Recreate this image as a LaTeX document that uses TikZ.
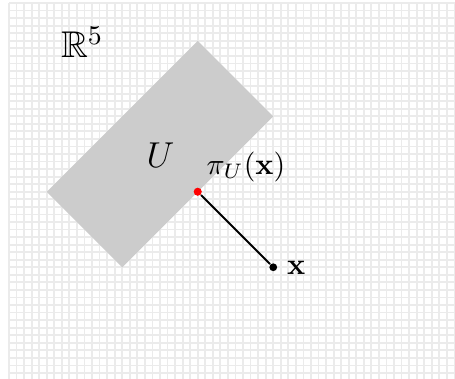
\documentclass[tikz,border=0pt]{standalone}
\usepackage{amssymb}
\usepackage{bm}
\begin{document}
\begin{tikzpicture}[x=0.33333pt,y=-0.33333pt,
  gridline/.style={draw=black!8,line width=0.6pt},
  region/.style={fill=black!20,draw=none},
  dotred/.style={circle,fill=red,inner sep=0pt,minimum size=2.7pt},
  dotblack/.style={circle,fill=black,inner sep=0pt,minimum size=2.6pt},
  lbl/.style={inner sep=0pt,anchor=base west},
  proj/.style={line width=0.6pt,draw=black}]
\useasboundingbox (0,0) rectangle (455,379);
\foreach \i in {0,...,59} \draw[gridline] ({9+7.55*\i},3) -- ({9+7.55*\i},379);
\foreach \j in {0,...,49} \draw[gridline] (9,{3+7.55*\j}) -- (455,{3+7.55*\j});
\coordinate (top) at (197.75,40.75);
\coordinate (right) at (273.25,116.25);
\coordinate (bottom) at (122.25,267.25);
\coordinate (left) at (46.75,191.75);
\fill[region] (top) -- (right) -- (bottom) -- (left) -- cycle;
\node[lbl] (R5) at (60.5,57.7) {\fontsize{12.4}{14}\selectfont $\mathbb{R}^5$};
\node[lbl] (Ulbl) at (146,167.3) {\fontsize{12.5}{14}\selectfont $U$};
\node[lbl] (plbl) at (206,174) {\fontsize{10.4}{12}\selectfont $\pi_U(\mathbf{x})$};
\node[dotred] (p) at (197.75,191.75) {};
\node[dotblack] (xpt) at (273.25,267.25) {};
\draw[proj] (p) -- (xpt);
\node[lbl] (xlbl) at (286.5,274) {$\mathbf{x}$};
\end{tikzpicture}
\end{document}
